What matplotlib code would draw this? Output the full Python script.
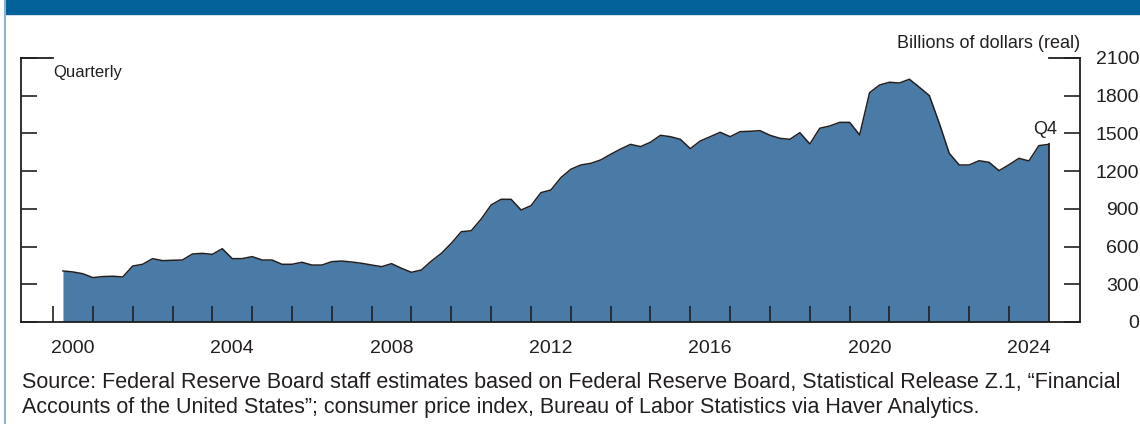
import numpy as np
import matplotlib
matplotlib.use("Agg")
import matplotlib.pyplot as plt
from matplotlib.patches import Rectangle
from matplotlib.lines import Line2D

# --- quarterly values, billions of dollars (real), 2000Q1 .. 2024Q4 ---
years = list(range(2000, 2025))
values = [
    406, 398, 384, 353,      # 2000
    361, 364, 358, 445,      # 2001
    459, 504, 488, 491,      # 2002
    493, 541, 546, 538,      # 2003
    583, 504, 504, 520,      # 2004
    493, 493, 459, 459,      # 2005
    475, 453, 453, 480,      # 2006
    485, 477, 467, 453,      # 2007
    440, 464, 427, 395,      # 2008
    414, 485, 546, 626,      # 2009
    718, 726, 819, 931,      # 2010
    976, 976, 891, 925,      # 2011
    1029, 1050, 1148, 1215,  # 2012
    1249, 1262, 1289, 1334,  # 2013
    1376, 1413, 1395, 1430,  # 2014
    1485, 1474, 1453, 1379,  # 2015
    1440, 1474, 1509, 1474,  # 2016
    1514, 1517, 1522, 1485,  # 2017
    1461, 1453, 1506, 1416,  # 2018
    1541, 1559, 1588, 1588,  # 2019
    1488, 1824, 1885, 1907,  # 2020
    1901, 1931, 1867, 1801,  # 2021
    1581, 1342, 1249, 1249,  # 2022
    1283, 1270, 1204, 1251,  # 2023
    1302, 1281, 1403, 1413,  # 2024
]
yticks = [0, 300, 600, 900, 1200, 1500, 1800, 2100]
xlabels = ["2000", "2004", "2008", "2012", "2016", "2020", "2024"]

# quarter plotted at end of quarter
x = np.array([y + q / 4 for y in years for q in range(1, 5)])
v = np.array(values)

W, H = 1140, 424
fig = plt.figure(figsize=(W / 100, H / 100), dpi=100)
plt.rcParams['font.family'] = ['Liberation Sans', 'DejaVu Sans']

dark = '#231f20'
fill_c = '#4a7ba7'
band_c = '#03629a'

# header band and left border
fig.patches.append(Rectangle((5 / W, 1 - 14 / H), 1 - 5 / W, 14 / H,
                             transform=fig.transFigure, color=band_c, zorder=0))
fig.lines.append(Line2D([5 / W, 5 / W], [0, 1], transform=fig.transFigure,
                        color='#8fb3cf', lw=1.5))

ax = fig.add_axes([21 / W, (H - 322) / H, 1059 / W, 264 / H])
ax.fill_between(x, v, 0, color=fill_c, lw=0, zorder=1)
ax.plot(x, v, color=dark, lw=1.1, zorder=2)
ax.plot([x[-1], x[-1]], [0, v[-1]], color=dark, lw=1.3, zorder=2)

x0 = 2000 - 32 / 39.83
x1 = 2024 + 71 / 39.83
ax.set_xlim(x0, x1)
ax.set_ylim(0, 2100)

for s in ['left', 'right', 'bottom']:
    ax.spines[s].set_color(dark)
    ax.spines[s].set_linewidth(1.3)
ax.spines['top'].set_visible(False)

# long top ticks
ax.plot([x0, 2000], [2100, 2100], color=dark, lw=1.3, clip_on=False, zorder=3)
ax.plot([x[-1], x1], [2100, 2100], color=dark, lw=1.3, clip_on=False, zorder=3)

# x ticks at year boundaries, labels centred in the year
ax.set_xticks(range(2000, 2025))
ax.set_xticklabels([])
ax.set_xticks([int(s) + 0.5 for s in xlabels], minor=True)
ax.set_xticklabels(xlabels, minor=True)
ax.tick_params(axis='x', which='major', direction='in', length=11.5,
               width=1.2, color=dark)
ax.tick_params(axis='x', which='minor', length=0, pad=13,
               labelsize=14, labelcolor=dark)

ax.set_yticks(yticks)
ax.tick_params(axis='y', which='major', direction='in', length=11.5,
               width=1.2, color=dark, left=True, right=True,
               labelleft=False, labelright=True, labelsize=14,
               labelcolor=dark, pad=42.5)
for lab in ax.get_yticklabels():
    lab.set_horizontalalignment('right')

fig.text(53 / W, 1 - 73 / H, "Quarterly", fontsize=12,
         color=dark, ha='left', va='center')
fig.text(1080 / W, 1 - 43 / H, "Billions of dollars (real)",
         fontsize=13, color=dark, ha='right', va='center')
fig.text(1057 / W, 1 - 129 / H, "Q4", fontsize=13,
         color=dark, ha='right', va='center')

src = ("Source: Federal Reserve Board staff estimates based on Federal Reserve Board, "
       "Statistical Release Z.1, \u201cFinancial\n"
       "Accounts of the United States\u201d; consumer price index, Bureau of Labor "
       "Statistics via Haver Analytics.")
fig.text(22 / W, 1 - 395 / H, src, fontsize=15.5, color=dark, ha='left',
         va='center', linespacing=1.28)

fig.savefig("out.png", dpi=100)
